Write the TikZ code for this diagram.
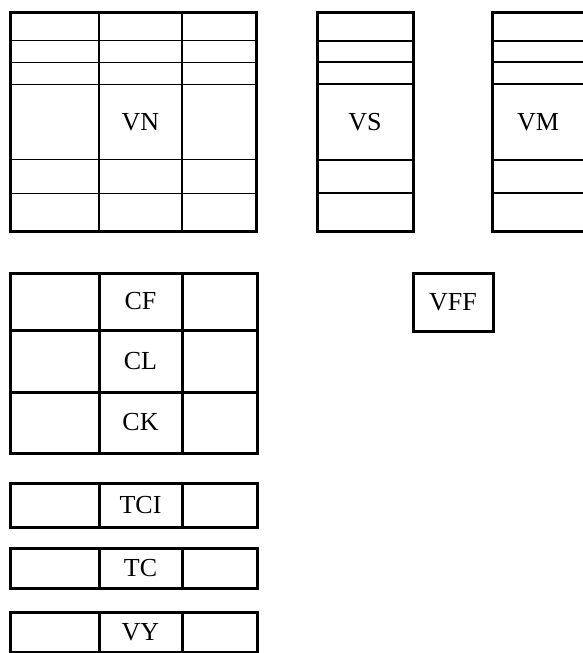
\documentclass[tikz,border=0pt]{standalone}
\usepackage{fontspec}
\setmainfont{Liberation Serif}
\begin{document}
\begin{tikzpicture}[x=1pt,y=-1pt,
  outer/.style={line width=3pt,line join=miter},
  thin/.style={line width=1.2pt},
  mid/.style={line width=1.7pt},
  thick/.style={line width=3pt},
  lbl/.style={font=\fontsize{26}{30}\selectfont,inner sep=0pt}]
\useasboundingbox (0,0) rectangle (583,653);
\clip (0,0) rectangle (583,653);
% VN
\draw[thin] (99,12.5) -- (99,231) (182,12.5) -- (182,231);
\foreach \y in {40.7,62.3,84.3,159.7,193.3} \draw[thin] (10,\y) -- (256,\y);
\draw[outer] (10,12.5) rectangle (256,231);
\node[lbl] (vn) at (140.5,122) {VN};
% VS
\foreach \y in {40.7,62.3,84.3,159.7,193.3} \draw[mid] (317,\y) -- (413,\y);
\draw[outer] (317,12.5) rectangle (413,231);
\node[lbl] (vs) at (365,122) {VS};
% VM
\foreach \y in {40.7,62.3,84.3,159.7,193.3} \draw[mid] (492,\y) -- (592,\y);
\draw[outer] (492,12.5) rectangle (592,231);
\node[lbl] (vm) at (538,122) {VM};
% C grid
\draw[thick] (99,273) -- (99,453) (182,273) -- (182,453);
\draw[thick] (10,330) -- (257,330) (10,392) -- (257,392);
\draw[outer] (10,273) rectangle (257,453);
\node[lbl] (cf) at (140.5,301.5) {CF};
\node[lbl] (cl) at (140.5,361) {CL};
\node[lbl] (ck) at (140.5,422.5) {CK};
% VFF
\draw[outer] (413,273) rectangle (493,331);
\node[lbl] (vff) at (453,302) {VFF};
% T rows
\foreach \a/\b/\t/\n in {483/527/TCI/tci,548/588/TC/tc,612/652/VY/vy}{
  \draw[thick] (99,\a) -- (99,\b) (182,\a) -- (182,\b);
  \draw[outer] (10,\a) rectangle (257,\b);
  \node[lbl] (\n) at (140.5,{(\a+\b)/2}) {\t};
}
\end{tikzpicture}
\end{document}
